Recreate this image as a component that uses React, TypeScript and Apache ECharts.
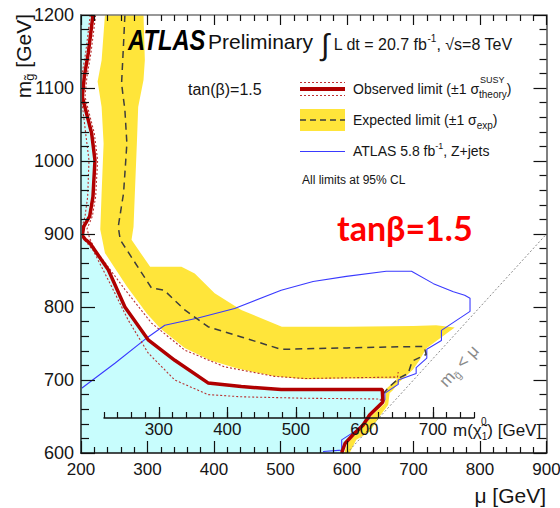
import React, { useEffect, useRef } from "react";
import * as echarts from "echarts";

// ---------- data (mu [GeV], m_gluino [GeV]) ----------
const xTickValues = [200, 300, 400, 500, 600, 700, 800, 900];
const yTickValues = [600, 700, 800, 900, 1000, 1100, 1200];
const innerTickValues = [300, 400, 500, 600, 700];

const observed: number[][] = [
  [218, 1200], [211, 1148], [205, 1116], [202, 1088], [216, 1038], [221, 1001],
  [218, 951], [213, 924], [204, 910], [202, 898], [206, 893], [213, 888],
  [241, 851], [266, 800], [301, 755], [341, 727], [391, 696], [441, 691],
  [501, 687], [550, 687], [653, 687], [654, 670], [634, 652], [624, 638],
  [609, 625], [597, 613], [592, 600],
];

const observedUp: number[][] = [
  [222, 1200], [215, 1148], [209, 1116], [206, 1088], [220, 1038], [225, 1001],
  [222, 951], [217, 924], [209, 907], [213, 894], [221, 879], [244, 851],
  [266, 824], [306, 778], [356, 741], [416, 718], [491, 705], [537, 702],
  [600, 703], [676, 704], [677, 711],
];

const observedDown: number[][] = [
  [214, 1200], [207, 1148], [201, 1116], [200, 1092], [207, 1038], [212, 1001],
  [210, 951], [206, 924], [200, 905], [205, 892], [218, 878], [246, 828],
  [271, 782], [301, 737], [341, 700], [391, 680], [441, 677], [537, 675],
  [650, 674], [651, 667],
];

const expected: number[][] = [
  [266, 1200], [264, 1161], [261, 1106], [266, 1070], [269, 1024], [264, 956],
  [256, 910], [259, 892], [306, 826], [325, 823], [356, 796], [391, 773],
  [441, 759], [501, 742], [550, 743], [600, 744], [650, 745], [716, 746],
  [719, 735], [698, 726], [692, 709], [679, 703], [664, 691], [655, 682],
];

const bandOuter: number[][] = [
  [294, 1200], [296, 1138], [294, 1111], [286, 1074], [284, 1024], [281, 956],
  [279, 910], [276, 892], [304, 855], [351, 855], [371, 846], [401, 819],
  [441, 796], [502, 773], [600, 773], [700, 774], [734, 775], [762, 772],
  [719, 743], [709, 727], [699, 714], [677, 696], [669, 686], [664, 682],
  [662, 666], [649, 650], [634, 629], [614, 618], [604, 600],
];

const bandInner: number[][] = [
  [596, 600], [600, 612], [612, 625], [626, 638], [638, 652], [657, 668],
  [659, 688], [676, 702], [600, 702], [537, 701], [491, 705], [434, 716],
  [394, 727], [356, 744], [319, 771], [299, 791], [269, 828], [236, 874],
  [229, 906], [231, 956], [234, 1024], [231, 1074], [225, 1109], [231, 1138],
  [236, 1200],
];

const zjets: number[][] = [
  [200, 688], [251, 723], [301, 759], [326, 775], [376, 785], [431, 798],
  [501, 823], [549, 835], [599, 842], [659, 849], [697, 849], [730, 832],
  [760, 821], [777, 816], [785, 812], [785, 794], [742, 768], [742, 754],
  [720, 742], [720, 730], [704, 717], [704, 709], [677, 700], [677, 694],
  [657, 682], [657, 673], [649, 663], [634, 652], [634, 647], [622, 638],
  [614, 631], [592, 618], [592, 604], [564, 602],
];

const diagonal: number[][] = [[600, 600], [900, 900]];

const excludedCorner: number[][] = [[200, 600], [200, 1200]];

// ---------- styling ----------
const FONT = '"Liberation Sans", Arial, Helvetica, sans-serif';
const INK = "#151515";
const RED = "#b00000";
const YELLOW = "#ffe53a";
const CYAN = "#c8fdfd";
const BLUE = "#3a3aff";

const plain = (v: number) => String(v);

function polygonSeries(points: number[][], color: string, z: number) {
  return {
    type: "custom",
    xAxisIndex: 0,
    yAxisIndex: 0,
    silent: true,
    clip: true,
    z,
    data: [points[0]],
    renderItem: (_params: any, api: any) => ({
      type: "polygon",
      shape: { points: points.map((p) => api.coord(p)) },
      style: { fill: color },
    }),
  };
}

function lineSeries(data: number[][], color: string, width: number, type: any, z: number) {
  return {
    type: "line",
    xAxisIndex: 0,
    yAxisIndex: 0,
    data,
    symbol: "none",
    showSymbol: false,
    silent: true,
    z,
    lineStyle: { color, width, type },
  };
}

function tok(fontSize: number, extra: any = {}) {
  return { fontSize, fontFamily: FONT, fill: INK, ...extra };
}

function text(x: number, y: number, str: string, fontSize: number, style: any = {}, el: any = {}) {
  return {
    type: "text",
    x,
    y,
    z: 50,
    silent: true,
    style: {
      text: str,
      fontSize,
      fontFamily: FONT,
      fill: INK,
      align: "left",
      verticalAlign: "middle",
      ...style,
    },
    ...el,
  };
}

function frameAxis(extra: any) {
  return {
    type: "value",
    splitLine: { show: false },
    z: 10,
    axisLine: { show: true, onZero: false, lineStyle: { color: "#333", width: 1.5 } },
    axisTick: { show: true, inside: true, lineStyle: { color: "#111", width: 1.2 } },
    minorTick: { show: true, splitNumber: 5, lineStyle: { color: "#111", width: 1.2 } },
    ...extra,
  };
}

const option: any = {
  animation: false,
  backgroundColor: "#ffffff",
  grid: [
    { left: 81, right: 13.5, top: 15, bottom: 55, containLabel: false, outerBoundsMode: "none" },
    { left: 104, width: 370, top: 417, height: 1, containLabel: false, outerBoundsMode: "none" },
  ],
  xAxis: [
    frameAxis({
      gridIndex: 0, min: 200, max: 900, interval: 100, position: "bottom",
      axisLine: { show: true, onZero: false, lineStyle: { color: "#111", width: 1.5 } },
      axisTick: { show: true, inside: true, length: 12, lineStyle: { color: "#111", width: 1.2 } },
      minorTick: { show: true, splitNumber: 5, length: 6, lineStyle: { color: "#111", width: 1.2 } },
      axisLabel: { fontSize: 17, fontFamily: FONT, color: INK, margin: 8, customValues: xTickValues, formatter: plain },
    }),
    frameAxis({
      gridIndex: 0, min: 200, max: 900, interval: 100, position: "top",
      axisLine: { show: true, onZero: false, lineStyle: { color: "#777", width: 1.5 } },
      axisTick: { show: true, inside: true, length: 10, lineStyle: { color: "#111", width: 1.2 } },
      minorTick: { show: true, splitNumber: 5, length: 6, lineStyle: { color: "#111", width: 1.2 } },
      axisLabel: { show: false },
    }),
    {
      type: "value", gridIndex: 1, min: 220, max: 760, interval: 20, position: "bottom", z: 10,
      splitLine: { show: false },
      axisLine: { show: false, onZero: false },
      axisTick: { show: true, inside: true, length: 6, lineStyle: { color: "#111", width: 1.2 } },
      axisLabel: { show: false },
    },
    {
      type: "value", gridIndex: 1, min: 220, max: 760, position: "bottom", z: 10,
      splitLine: { show: false },
      axisLine: { show: true, onZero: false, lineStyle: { color: "#111", width: 1.5 } },
      axisTick: { show: true, inside: true, length: 11, customValues: innerTickValues, lineStyle: { color: "#111", width: 1.2 } },
      axisLabel: { show: true, customValues: innerTickValues, fontSize: 17, fontFamily: FONT, color: INK, margin: 3, formatter: plain },
    },
  ],
  yAxis: [
    frameAxis({
      gridIndex: 0, min: 600, max: 1200, interval: 100, position: "left",
      axisLine: { show: true, onZero: false, lineStyle: { color: "#4a5a5a", width: 2 } },
      axisTick: { show: true, inside: true, length: 14, lineStyle: { color: "#111", width: 1.2 } },
      minorTick: { show: true, splitNumber: 5, length: 8, lineStyle: { color: "#111", width: 1.2 } },
      axisLabel: { fontSize: 18, fontFamily: FONT, color: INK, margin: 7, customValues: yTickValues, formatter: plain },
    }),
    frameAxis({
      gridIndex: 0, min: 600, max: 1200, interval: 100, position: "right",
      axisLine: { show: true, onZero: false, lineStyle: { color: "#555", width: 1.5 } },
      axisTick: { show: true, inside: true, length: 13, lineStyle: { color: "#111", width: 1.2 } },
      minorTick: { show: true, splitNumber: 5, length: 7, lineStyle: { color: "#111", width: 1.2 } },
      axisLabel: { show: false },
    }),
    { type: "value", gridIndex: 1, min: 0, max: 1, show: false },
  ],
  series: [
    polygonSeries([...excludedCorner.slice(1), ...observed, excludedCorner[0]], CYAN, 1),
    polygonSeries([...bandOuter, ...bandInner], YELLOW, 2),
    lineSeries(diagonal, "#8a8a8a", 1, [2, 2], 3),
    lineSeries(zjets, BLUE, 1.1, "solid", 4),
    lineSeries(observedUp, "#b83030", 1.1, [2, 2], 5),
    lineSeries(observedDown, "#b83030", 1.1, [2, 2], 5),
    lineSeries(expected, "#3d3d3d", 1.5, [7, 5], 6),
    lineSeries(observed, RED, 3.5, "solid", 7),
  ],
  graphic: [
    // header
    text(128, 40, "ATLAS", 29, { fontStyle: "italic", fontWeight: "bold", fill: "#000" }, { scaleX: 0.82 }),
    text(208, 41, "Preliminary", 21, { fill: "#111" }),
    text(321, 44, "{i|∫}{t| L dt = 20.7 fb}{s|-1}{t|, √s=8 TeV}", 16, {
      rich: {
        i: tok(30),
        t: tok(16),
        s: tok(10, { padding: [0, 0, 12, 0] }),
      },
    }),
    text(188, 89, "tan(β)=1.5", 16),
    // legend symbols
    { type: "line", z: 50, silent: true, shape: { x1: 300, y1: 82.5, x2: 345, y2: 82.5 }, style: { stroke: "#c03030", lineWidth: 1.1, lineDash: [2, 2] } },
    { type: "line", z: 50, silent: true, shape: { x1: 300, y1: 89, x2: 345, y2: 89 }, style: { stroke: RED, lineWidth: 4 } },
    { type: "line", z: 50, silent: true, shape: { x1: 300, y1: 95.5, x2: 345, y2: 95.5 }, style: { stroke: "#c03030", lineWidth: 1.1, lineDash: [2, 2] } },
    { type: "rect", z: 50, silent: true, shape: { x: 300, y: 109, width: 45, height: 22 }, style: { fill: YELLOW } },
    { type: "line", z: 51, silent: true, shape: { x1: 300, y1: 120, x2: 345, y2: 120 }, style: { stroke: "#3d3d3d", lineWidth: 1.4, lineDash: [6, 4] } },
    { type: "line", z: 50, silent: true, shape: { x1: 300, y1: 151.5, x2: 345, y2: 151.5 }, style: { stroke: BLUE, lineWidth: 1.2 } },
    // legend texts
    text(353, 89, "{t|Observed limit (±1 σ}{b|theory}{t|)}", 14, {
      rich: { t: tok(14), b: tok(10, { padding: [10, 0, 0, 0] }) },
    }),
    text(480, 80, "SUSY", 9),
    text(353, 120, "{t|Expected limit (±1 σ}{b|exp}{t|)}", 14, {
      rich: { t: tok(14), b: tok(10, { padding: [10, 0, 0, 0] }) },
    }),
    text(353, 151, "{t|ATLAS 5.8 fb}{s|-1}{t|, Z+jets}", 14, {
      rich: { t: tok(14), s: tok(9, { padding: [0, 0, 10, 0] }) },
    }),
    text(302, 180, "All limits at 95% CL", 12),
    // big red annotation
    text(337, 227, "tanβ=1.5", 34, { fontFamily: "Lato, 'Open Sans', sans-serif", fontWeight: "bold", fill: "#ff0000" }),
    // diagonal label
    text(459, 366, "{t|m}{b|g̃}{t| < μ}", 17, {
      align: "center",
      rich: { t: tok(17, { fill: "#8a8a8a" }), b: tok(11, { fill: "#8a8a8a", padding: [10, 0, 0, 0] }) },
    }, { rotation: 0.83 }),
    // inner axis title
    text(453, 430, "{t|m(χ̃}{b|1}{t|) [GeV]}", 17, {
      rich: { t: tok(17), b: tok(10, { padding: [12, 0, 0, 0] }) },
    }),
    text(481, 421, "0", 10),
    // axis titles
    text(546, 495, "μ [GeV]", 21, { align: "right" }),
    text(23, 14, "{t|m}{b|g̃}{t| [GeV]}", 21, {
      align: "right",
      rich: { t: tok(21), b: tok(13, { padding: [12, 0, 0, 0] }) },
    }, { rotation: Math.PI / 2 }),
  ],
};

export default function App() {
  const ref = useRef<HTMLDivElement>(null);
  useEffect(() => {
    const chart = echarts.init(ref.current as HTMLDivElement, null, { renderer: "svg" });
    chart.setOption(option);
    return () => chart.dispose();
  }, []);
  return (
    <div
      ref={ref}
      style={{ position: "fixed", left: 0, top: 0, width: 560, height: 508, background: "#fff" }}
    />
  );
}
